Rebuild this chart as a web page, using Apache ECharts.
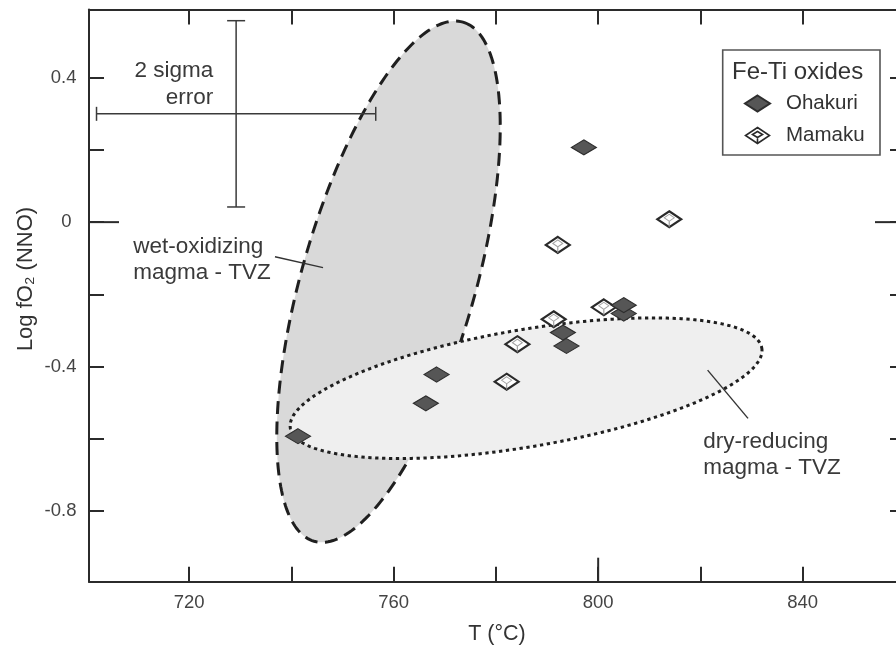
<!DOCTYPE html>
<html>
<head>
<meta charset="utf-8">
<script src="https://cdn.jsdelivr.net/npm/echarts@6/dist/echarts.min.js"></script>
<style>
  html, body { margin: 0; padding: 0; background: #fff; }
  #chart { width: 896px; height: 647px; }
</style>
</head>
<body>
<div id="chart"></div>
<script>
// Fe-Ti oxide equilibration temperature (°C) and log fO2 relative to NNO
const ohakuri = [
  [797.2, 0.207], [805.0, -0.253], [805.0, -0.230], [793.1, -0.306],
  [793.8, -0.343], [768.4, -0.422], [766.3, -0.502], [741.3, -0.593]
];
const mamaku = [
  [813.9, 0.008], [792.1, -0.063], [801.1, -0.236], [791.3, -0.269],
  [784.2, -0.338], [782.1, -0.442]
];

// TVZ magma fields: centre, end of semi-major axis, end of semi-minor axis
const wetField = [[759.0, -0.165], [773.55, 0.554], [775.3, -0.231]];
const dryField = [[785.9, -0.460], [832.0, -0.349], [787.8, -0.620]];

// 2 sigma analytical error: centre and half-widths (T, log fO2)
const errCentre = [729.2, 0.300];
const errHalf = [27.3, 0.258];

// Axis ticks and labels
const xTicks = [720, 740, 760, 780, 800, 820, 840];
const xTickLabels = [720, 760, 800, 840];
const yTicks = [-0.8, -0.6, -0.4, -0.2, 0, 0.2, 0.4];
const yTickLabels = [-0.8, -0.4, 0, 0.4];
// Reference values marked with long ticks
const refT = [800];
const refLogF = [0];

const X_MIN = 700.43, X_MAX = 860;
const Y_MIN = -0.996, Y_MAX = 0.589;

const FONT = '"Liberation Sans", Arial, Helvetica, sans-serif';
const INK = '#2b2b2b';

const chart = echarts.init(document.getElementById('chart'), null, { renderer: 'canvas' });

// Ellipse from centre and two conjugate semi-axis end points, drawn in pixel space
function fieldSeries(name, pts, fill, dash, z) {
  return {
    type: 'custom',
    name: name,
    silent: true,
    z: z,
    data: [pts[0].concat(pts[1], pts[2])],
    encode: { x: [0, 2, 4], y: [1, 3, 5] },
    renderItem: function (params, api) {
      const c = api.coord([api.value(0), api.value(1)]);
      const a = api.coord([api.value(2), api.value(3)]);
      const b = api.coord([api.value(4), api.value(5)]);
      const u = [a[0] - c[0], a[1] - c[1]];
      const v = [b[0] - c[0], b[1] - c[1]];
      const points = [];
      const n = 240;
      for (let i = 0; i < n; i++) {
        const t = i / n * Math.PI * 2;
        points.push([
          c[0] + u[0] * Math.cos(t) + v[0] * Math.sin(t),
          c[1] + u[1] * Math.cos(t) + v[1] * Math.sin(t)
        ]);
      }
      return {
        type: 'polygon',
        shape: { points: points },
        style: { fill: fill, stroke: '#1f1f1f', lineWidth: 3, lineDash: dash }
      };
    }
  };
}

function seg(x1, y1, x2, y2, w, color) {
  return { type: 'line', shape: { x1: x1, y1: y1, x2: x2, y2: y2 },
           style: { stroke: color || '#3a3a3a', lineWidth: w || 1.5 } };
}

const tickStyle = { color: INK, width: 2 };
const axisLine = { show: true, onZero: false, lineStyle: { color: INK, width: 2 } };

const mamakuInner = 'path://M-12,0L-12,0M12,0L12,0M0,-8L0,-8M0,8L0,8' +
                    'M0,-5L5,-1.5L0,2L-5,-1.5ZM0,2L0,8';
const mamakuIcon = 'path://M0,-8L12,0L0,8L-12,0ZM0,-4L5,-1L0,2L-5,-1ZM0,2L0,8';

const option = {
  backgroundColor: '#ffffff',
  animation: false,
  grid: { left: 89, top: 9.5, width: 816, height: 572.2, outerBoundsMode: 'none', containLabel: false },
  xAxis: [
    {
      type: 'value', position: 'bottom', min: X_MIN, max: X_MAX,
      axisLine: axisLine,
      axisTick: { show: true, inside: true, length: 15, customValues: xTicks, lineStyle: tickStyle },
      axisLabel: { show: true, customValues: xTickLabels, margin: 12, fontSize: 18.5,
                   fontFamily: FONT, color: '#444' },
      splitLine: { show: false }
    },
    {
      type: 'value', position: 'top', min: X_MIN, max: X_MAX,
      axisLine: axisLine,
      axisTick: { show: true, inside: true, length: 15, customValues: xTicks, lineStyle: tickStyle },
      axisLabel: { show: false },
      splitLine: { show: false }
    }
  ],
  yAxis: [
    {
      type: 'value', position: 'left', min: Y_MIN, max: Y_MAX,
      axisLine: axisLine,
      axisTick: { show: true, inside: true, length: 15, customValues: yTicks, lineStyle: tickStyle },
      axisLabel: {
        show: true, customValues: yTickLabels, margin: 12.5, fontSize: 18.5,
        fontFamily: FONT, color: '#444',
        formatter: function (v) { return Math.abs(v) < 1e-9 ? '{z|0}' : String(+v.toFixed(1)); },
        rich: { z: { fontSize: 18.5, fontFamily: FONT, color: '#444', padding: [0, 5, 0, 0] } }
      },
      splitLine: { show: false }
    },
    {
      type: 'value', position: 'right', min: Y_MIN, max: Y_MAX,
      axisLine: axisLine,
      axisTick: { show: true, inside: true, length: 15, customValues: yTicks, lineStyle: tickStyle },
      axisLabel: { show: false },
      splitLine: { show: false }
    }
  ],
  legend: {
    orient: 'vertical',
    left: 744, top: 92.5, padding: 0,
    itemWidth: 25, itemHeight: 16, itemGap: 10,
    selectedMode: false,
    textStyle: { fontFamily: FONT, fontSize: 20.5, color: '#333', lineHeight: 22, padding: [0, 0, 0, 11] },
    data: [
      { name: 'Ohakuri', icon: 'diamond' },
      { name: 'Mamaku', icon: mamakuIcon,
        itemStyle: { color: '#fff', borderColor: '#2a2a2a', borderWidth: 1.6 } }
    ]
  },
  graphic: [
    { type: 'rect', z: 3, shape: { x: 722.7, y: 50, width: 157.3, height: 105 },
      style: { fill: '#fff', stroke: '#555', lineWidth: 1.6 } },
    { type: 'text', z: 5, x: 732, y: 72,
      style: { text: 'Fe-Ti oxides', fontFamily: FONT, fontSize: 24, fill: '#333',
               align: 'left', verticalAlign: 'middle' } },
    { type: 'text', x: 213.3, y: 84.6,
      style: { text: '2 sigma\nerror', fontFamily: FONT, fontSize: 22.5, lineHeight: 27,
               fill: '#3a3a3a', align: 'right', verticalAlign: 'middle' } },
    { type: 'text', x: 133.3, y: 259.4,
      style: { text: 'wet-oxidizing\nmagma - TVZ', fontFamily: FONT, fontSize: 22.5, lineHeight: 26,
               fill: '#3a3a3a', align: 'left', verticalAlign: 'middle' } },
    { type: 'text', x: 703.3, y: 455.1,
      style: { text: 'dry-reducing\nmagma - TVZ', fontFamily: FONT, fontSize: 22.5, lineHeight: 26,
               fill: '#3a3a3a', align: 'left', verticalAlign: 'middle' } },
    { type: 'text', x: 497, y: 634,
      style: { text: 'T (°C)', fontFamily: FONT, fontSize: 21.5, fill: '#333',
               align: 'center', verticalAlign: 'middle' } },
    { type: 'text', x: 26, y: 279, rotation: Math.PI / 2,
      style: { text: 'Log fO\u2082 (NNO)', fontFamily: FONT, fontSize: 22, fill: '#333',
               align: 'center', verticalAlign: 'middle' } }
  ],
  series: [
    fieldSeries('wet-oxidizing magma - TVZ', wetField, '#d9d9d9', [13, 7.5], 1),
    fieldSeries('dry-reducing magma - TVZ', dryField, '#efefef', [3.3, 3.6], 2),
    {
      // leader lines from labels to the fields
      type: 'custom', silent: true, z: 2,
      data: [[736.8, -0.096, 746.2, -0.126], [821.4, -0.410, 829.3, -0.5435]],
      encode: { x: [0, 2], y: [1, 3] },
      renderItem: function (params, api) {
        const p = api.coord([api.value(0), api.value(1)]);
        const q = api.coord([api.value(2), api.value(3)]);
        return seg(p[0], p[1], q[0], q[1], 1.4, '#333');
      }
    },
    {
      // 2 sigma error cross
      type: 'custom', silent: true, z: 2,
      data: [[errCentre[0], errCentre[1], errHalf[0], errHalf[1]]],
      encode: { x: 0, y: 1 },
      renderItem: function (params, api) {
        const cx = api.value(0), cy = api.value(1), dx = api.value(2), dy = api.value(3);
        const l = api.coord([cx - dx, cy]), r = api.coord([cx + dx, cy]);
        const t = api.coord([cx, cy + dy]), b = api.coord([cx, cy - dy]);
        return {
          type: 'group',
          children: [
            seg(l[0], l[1], r[0], r[1]),
            seg(l[0], l[1] - 7, l[0], l[1] + 7),
            seg(r[0], r[1] - 7, r[0], r[1] + 7),
            seg(t[0], t[1], b[0], b[1]),
            seg(t[0] - 9, t[1], t[0] + 9, t[1]),
            seg(b[0] - 9, b[1], b[0] + 9, b[1])
          ]
        };
      }
    },
    {
      // long ticks at the NNO buffer and 800 °C
      type: 'custom', silent: true, z: 2,
      data: [[refT[0], refLogF[0]]],
      encode: { x: 0, y: 1 },
      renderItem: function (params, api) {
        const cs = params.coordSys;
        const p = api.coord([api.value(0), api.value(1)]);
        const bottom = cs.y + cs.height, right = cs.x + cs.width;
        return {
          type: 'group',
          children: [
            seg(cs.x, p[1], cs.x + 30, p[1], 2, INK),
            seg(right - 30, p[1], right, p[1], 2, INK),
            seg(p[0], bottom, p[0], bottom - 24, 2, INK)
          ]
        };
      }
    },
    {
      name: 'Mamaku', type: 'scatter', z: 3,
      symbol: 'diamond', symbolSize: [24, 16],
      itemStyle: { color: '#fff', borderColor: '#2a2a2a', borderWidth: 2.2, opacity: 1 },
      data: mamaku
    },
    {
      name: 'Mamaku detail', type: 'scatter', z: 3, silent: true,
      symbol: mamakuInner, symbolSize: [24, 16],
      itemStyle: { color: 'rgba(255,255,255,0)', borderColor: '#8c8c8c', borderWidth: 1 },
      data: mamaku
    },
    {
      name: 'Ohakuri', type: 'scatter', z: 4,
      symbol: 'diamond', symbolSize: [25, 15],
      itemStyle: { color: '#565656', borderColor: '#2e2e2e', borderWidth: 1.2, opacity: 1 },
      data: ohakuri
    }
  ]
};

chart.setOption(option);
</script>
</body>
</html>
